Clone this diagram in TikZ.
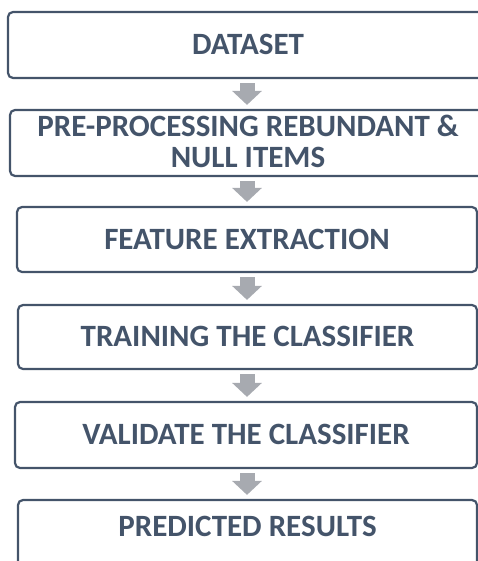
\documentclass[tikz,border=0pt]{standalone}
\usepackage{fontspec}
\setmainfont{Carlito}
\usetikzlibrary{arrows.meta, positioning}
\definecolor{slate}{HTML}{44546A}
\definecolor{arrowgray}{HTML}{A7AAB0}
\tikzset{stage/.style={draw=slate,line width=2.2pt,rounded corners=5pt,
                       text=slate,font=\fontsize{31}{31}\selectfont\bfseries,
                       align=center,inner sep=0pt,text height=19.5pt,text depth=0pt},
         flow/.style={draw=arrowgray,line width=15pt,
                      -{Triangle[width=29pt,length=14pt]},
                      shorten <=4pt,shorten >=4pt}}

\begin{document}
\begin{tikzpicture}[x=1pt,y=-1pt]
        \useasboundingbox (0,0) rectangle (478,561);
        \clip (0,0) rectangle (478,561);

        \node[stage, minimum width=480pt, minimum height=66pt](d1)at(248,45){DATASET};
        \node[stage, minimum width=476pt, minimum height=66pt, text height=50pt](d2)at(248,143)
            {PRE-PROCESSING REBUNDANT \&\\NULL ITEMS};
        \node[stage, minimum width=460pt, minimum height=65pt](d3)at(247,239.5){FEATURE EXTRACTION};
        \node[stage, minimum width=459pt, minimum height=64pt](d4)at(247.5,337){TRAINING THE CLASSIFIER};
        \node[stage, minimum width=462pt, minimum height=66pt](d5)at(246,435){VALIDATE THE CLASSIFIER};
        \node[stage, minimum width=459pt, minimum height=72pt, text depth=18pt](d6)at(247.5,536){PREDICTED RESULTS};

        \draw[flow](d1.south -| 247,0)--(d2.north -| 247,0);
        \draw[flow](d2.south -| 247,0)--(d3.north -| 247,0);
        \draw[flow](d3.south -| 247,0)--(d4.north -| 247,0);
        \draw[flow](d4.south -| 247,0)--(d5.north -| 247,0);
        \draw[flow](d5.south -| 247,0)--(d6.north -| 247,0);
    \end{tikzpicture}
\end{document}
